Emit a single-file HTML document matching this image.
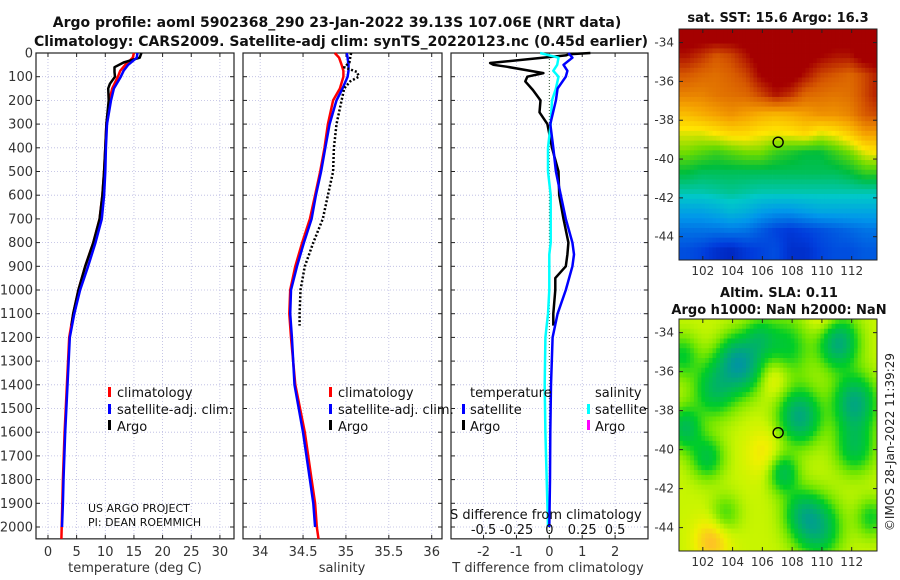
<!DOCTYPE html>
<html><head><meta charset="utf-8">
<style>
html,body{margin:0;padding:0;background:#fff;}
svg{display:block;font-family:"DejaVu Sans","Liberation Sans",sans-serif;}
</style></head>
<body>
<svg id="fig" width="900" height="580" viewBox="0 0 900 580" xmlns="http://www.w3.org/2000/svg">
<rect width="900" height="580" fill="#fff"/>
<text x="337" y="27" text-anchor="middle" font-size="14" font-weight="bold" fill="#111">Argo profile: aoml 5902368_290 23-Jan-2022 39.13S 107.06E (NRT data)</text>
<text x="341" y="46" text-anchor="middle" font-size="14" font-weight="bold" fill="#111">Climatology: CARS2009. Satellite-adj clim: synTS_20220123.nc (0.45d earlier)</text>
<g id="panels"></g>
<g id="maps"></g>
<text transform="translate(894,442) rotate(-90)" text-anchor="middle" font-size="12" fill="#222">©IMOS 28-Jan-2022 11:39:29</text>
</svg>
<script>
// ---------------- data ----------------
const depthLevels = [0,20,50,75,100,150,200,300,400,500,600,700,800,900,1000,1100,1200,1400,1600,1800,1900,2000,2050];
const climT  = [15.0,14.8,13.5,12.6,12.2,11.2,10.7,10.2,10.0,9.8,9.5,9.0,7.9,6.5,5.3,4.4,3.7,3.3,2.9,2.6,2.5,2.4,2.35];
const satT   = [15.6,15.5,14.0,13.2,12.7,11.5,11.0,10.3,10.1,10.0,9.8,9.4,8.3,7.0,5.6,4.6,3.8,3.4,3.0,2.7,2.6,2.45];
const argoDepthT = [0,20,40,60,80,100,130,150,200,300,400,500,600,700,800,900,1000,1100,1150];
const argoT  = [16.3,16.0,13.2,11.6,11.6,11.7,10.8,10.5,10.6,10.2,10.0,9.8,9.5,9.0,7.9,6.5,5.3,4.4,4.1];
const climS  = [34.87,34.92,34.95,34.97,34.97,34.93,34.85,34.79,34.75,34.70,34.64,34.58,34.49,34.41,34.35,34.34,34.36,34.41,34.52,34.60,34.64,34.66,34.68];
const satS   = [35.01,35.02,35.03,35.03,35.02,34.96,34.89,34.81,34.76,34.71,34.65,34.60,34.51,34.43,34.36,34.35,34.37,34.40,34.50,34.58,34.62,34.64];
const argoDepthS = [0,20,40,60,80,100,120,150,200,300,400,500,600,700,800,900,1000,1100,1150];
const argoS  = [35.06,35.05,35.04,34.98,35.13,35.15,35.05,34.98,34.95,34.89,34.86,34.85,34.79,34.73,34.62,34.52,34.47,34.46,34.46];
const diffDepthSat = [0,20,50,75,100,150,200,300,400,500,600,700,800,850,900,1000,1100,1200,1400,1600,1800,2000];
const satTdiff = [0.58,0.70,0.43,0.55,0.50,0.25,0.20,0.03,0.12,0.20,0.35,0.50,0.70,0.75,0.70,0.50,0.25,0.10,0.05,0.03,0.02,0.0];
const satSdiff = [-0.07,0.07,0.06,0.03,0.07,0.05,0.02,0.01,-0.01,-0.01,0.01,0.01,0.01,0.0,0.0,0.0,-0.01,-0.03,-0.035,-0.03,-0.02,-0.01];
const argoDiffDepth = [0,5,10,42,50,58,85,100,120,156,200,250,300,400,500,600,700,800,850,900,950,1000,1100,1150];
const argoTdiff = [1.25,0.6,0.5,-1.8,-1.7,-1.3,-0.18,-0.67,-0.73,-0.5,-0.27,-0.3,-0.06,0.08,0.28,0.3,0.43,0.58,0.55,0.5,0.18,0.18,0.12,0.12];
const tTicks = [0,5,10,15,20,25,30];
const sTicks = [34,34.5,35,35.5,36];
const dTicks = [-2,-1,0,1,2];
const dSTickLabels = ["-0.5","-0.25","0","0.25","0.5"];
const dSTickVals = [-0.5,-0.25,0,0.25,0.5];
const depthTicks = [0,100,200,300,400,500,600,700,800,900,1000,1100,1200,1300,1400,1500,1600,1700,1800,1900,2000];
// SST coarse grid (colour index 0..1), rows lat -33.7..-44.7, cols lon 100.9..113.9
const sstRowLats = [-33.7,-34.7,-35.7,-36.7,-37.7,-38.7,-39.7,-40.7,-41.7,-42.7,-43.7,-44.7];
const sstColLons = [100.9,101.9,102.9,103.9,104.9,105.9,106.9,107.9,108.9,109.9,110.9,111.9,112.9,113.9];
const sstGrid = [
[1,1,1,1,1,1,1,1,1,1,1,1,1,1],
[0.95,0.92,0.88,0.9,0.95,1,1,1,1,0.97,0.95,0.95,1,1],
[0.88,0.86,0.85,0.87,0.9,0.97,1,1,0.95,0.9,0.88,0.86,0.9,0.95],
[0.82,0.82,0.84,0.85,0.86,0.9,0.95,0.92,0.86,0.85,0.84,0.85,0.9,0.95],
[0.74,0.76,0.78,0.8,0.78,0.76,0.75,0.76,0.78,0.8,0.8,0.82,0.88,0.9],
[0.66,0.66,0.68,0.7,0.7,0.68,0.67,0.68,0.7,0.66,0.68,0.72,0.78,0.78],
[0.6,0.58,0.56,0.58,0.6,0.6,0.56,0.54,0.52,0.52,0.56,0.6,0.66,0.68],
[0.52,0.5,0.5,0.5,0.5,0.5,0.5,0.5,0.5,0.5,0.5,0.52,0.56,0.56],
[0.44,0.44,0.45,0.46,0.45,0.44,0.44,0.44,0.44,0.44,0.44,0.44,0.44,0.44],
[0.33,0.33,0.35,0.38,0.36,0.32,0.3,0.3,0.32,0.34,0.34,0.34,0.34,0.34],
[0.24,0.24,0.24,0.25,0.24,0.2,0.16,0.14,0.16,0.18,0.2,0.22,0.24,0.24],
[0.18,0.16,0.12,0.1,0.14,0.16,0.18,0.12,0.12,0.16,0.18,0.18,0.2,0.2]];
// SLA anomaly blobs: lon, lat, radius(deg), amplitude
const slaLon = [104.7,103.6,102.8,111.1,107.5,112.2,112.2,108.5,100.8,100.6,102.3,107.4,109.7,108.6,103.5,113.3,102.6,106.8,103.3,106.2,110.2,105.8];
const slaLat = [-35.7,-35.0,-36.9,-34.5,-34.8,-37.6,-39.9,-38.3,-38.9,-35.2,-40.4,-41.2,-44.0,-43.2,-43.3,-43.5,-44.7,-36.2,-34.7,-40.2,-33.3,-34.2];
const slaRad = [1.4,1.2,1.4,1.3,1.6,1.4,1.3,1.4,1.1,1.1,1.1,1.0,1.5,1.2,1.0,1.0,1.2,1.1,1.1,1.3,1.1,1.0];
const slaAmp = [-0.28,-0.14,-0.2,-0.28,-0.16,-0.28,-0.18,-0.28,-0.2,-0.14,-0.17,-0.2,-0.25,-0.15,-0.1,-0.13,0.12,0.1,0.07,0.07,0.08,-0.12];
const mapLonTicks = [102,104,106,108,110,112];
const mapLatTicks = [-34,-36,-38,-40,-42,-44];
const argoLon = 107.06, argoLat = -39.13;

// ---------------- helpers ----------------
const NS = "http://www.w3.org/2000/svg";
function mk(tag, attrs, parent){const e=document.createElementNS(NS,tag);for(const k in attrs)e.setAttribute(k,attrs[k]);parent.appendChild(e);return e;}
const Y0=53, YS=0.237, DMAX=2050;
const yD = d => Y0 + d*YS;
const panels = [
 {x0:36,x1:234,vmin:-2.09,vmax:32.46},
 {x0:243,x1:442,vmin:33.80,vmax:36.12},
 {x0:451,x1:648,vmin:-2.99,vmax:3.0}
];
function xS(p,v){return p.x0+(v-p.vmin)/(p.vmax-p.vmin)*(p.x1-p.x0);}
const G=document.getElementById('panels');

panels.forEach((p,i)=>{
  const g=mk('g',{},G);
  
  
  const yb=yD(DMAX);
  const ticks=[tTicks,sTicks,dTicks][i];
  depthTicks.forEach(d=>{const l=mk('line',{x1:p.x0,x2:p.x1,y1:yD(d),y2:yD(d),stroke:'#b8b8e0','stroke-width':0.8,'stroke-dasharray':'1,2'},g);
    
    
    mk('line',{x1:p.x0,x2:p.x0+4,y1:yD(d),y2:yD(d),stroke:'#222'},g);
    mk('line',{x1:p.x1,x2:p.x1-4,y1:yD(d),y2:yD(d),stroke:'#222'},g);
  });
  ticks.forEach(t=>{const x=xS(p,t);
    const l=mk('line',{x1:x,x2:x,y1:Y0,y2:yb,stroke:'#b8b8e0','stroke-width':0.8,'stroke-dasharray':'1,2'},g);
    
    
    mk('line',{x1:x,x2:x,y1:yb,y2:yb-4,stroke:'#222'},g);
    mk('line',{x1:x,x2:x,y1:Y0,y2:Y0+4,stroke:'#222'},g);
    const tx=mk('text',{x:x,y:yb+17,'text-anchor':'middle','font-size':13,fill:'#333'},g);
    tx.textContent=String(t);
    
    
  });
  if(i===0){depthTicks.forEach(d=>{const tx=mk('text',{x:33,y:yD(d)+4.5,'text-anchor':'end','font-size':13,fill:'#333'},g);
    tx.textContent=String(d);
    
    });}
  const fr=mk('rect',{x:p.x0,y:Y0,width:p.x1-p.x0,height:yb-Y0,fill:'none',stroke:'#222','stroke-width':1.2},g);
  
  
});

function prof(p,vals,deps,color,w,dash,name){
  const pts=vals.map((v,k)=>xS(p,v).toFixed(1)+','+yD(deps[k]).toFixed(1)).join(' ');
  const a={points:pts,fill:'none',stroke:color,'stroke-width':w,'stroke-linejoin':'round'};
  if(dash)a['stroke-dasharray']=dash;
  const e=mk('polyline',a,G);
  
  
}
const [P1,P2,P3]=panels;
const z=mk('line',{x1:xS(P3,0),x2:xS(P3,0),y1:Y0,y2:yD(DMAX),stroke:'#335533','stroke-width':1,'stroke-dasharray':'1,2'},G);



prof(P1,climT,depthLevels,'#f00',2.5,null,'climatology-temperature-line');
prof(P1,argoT,argoDepthT,'#000',2.5,null,'argo-temperature-line');
prof(P1,satT,depthLevels.slice(0,satT.length),'#00f',2.5,null,'satellite-temperature-line');
prof(P2,climS,depthLevels,'#f00',2.5,null,'climatology-salinity-line');
prof(P2,satS,depthLevels.slice(0,satS.length),'#00f',2.5,null,'satellite-salinity-line');
prof(P2,argoS,argoDepthS,'#000',2.5,'2,2','argo-salinity-line');
prof(P3,argoTdiff,argoDiffDepth,'#000',2.5,null,'argo-temperature-difference-line');
prof(P3,satSdiff.map(v=>v*4),diffDepthSat,'#0ff',2.5,null,'satellite-salinity-difference-line');
prof(P3,satTdiff,diffDepthSat,'#00f',2.5,null,'satellite-temperature-difference-line');

function txt(x,y,s,opts,name){const a={x:x,y:y,'font-size':13,fill:'#111'};Object.assign(a,opts||{});const t=mk('text',a,G);t.textContent=s;
  
  return t;}
function mark(x,y,c,name){const r=mk('rect',{x:x,y:y-10,width:3,height:10,fill:c},G);
  
  }
[[108,'temperature'],[329,'salinity']].forEach(([lx,nm])=>{
  mark(lx,397,'#f00',nm+'-legend-climatology-marker');txt(lx+9,397,'climatology',{},nm+'-legend-climatology');
  mark(lx,414,'#00f',nm+'-legend-satellite-marker');txt(lx+9,414,'satellite-adj. clim.',{},nm+'-legend-satellite');
  mark(lx,430,'#000',nm+'-legend-argo-marker');txt(lx+9,431,'Argo',{},nm+'-legend-argo');
});
txt(470,397,'temperature',{},'diff-legend-temperature-header');
mark(462,414,'#00f','diff-legend-temp-satellite-marker');txt(470,414,'satellite',{},'diff-legend-temp-satellite');
mark(462,430,'#000','diff-legend-temp-argo-marker');txt(470,431,'Argo',{},'diff-legend-temp-argo');
txt(595,397,'salinity',{},'diff-legend-salinity-header');
mark(587,414,'#0ff','diff-legend-sal-satellite-marker');txt(595,414,'satellite',{},'diff-legend-sal-satellite');
mark(587,430,'#f0f','diff-legend-sal-argo-marker');txt(595,431,'Argo',{},'diff-legend-sal-argo');
txt(88,512,'US ARGO PROJECT',{'font-size':11},'project-credit');
txt(88,526,'PI: DEAN ROEMMICH',{'font-size':11},'pi-credit');
txt(450,519,'S difference from climatology',{'font-size':13},'s-difference-axis-title');
dSTickVals.forEach((v,k)=>txt(xS(P3,v*4),534,dSTickLabels[k],{'text-anchor':'middle'},'s-difference-tick-label'));
txt(135,572,'temperature (deg C)',{'text-anchor':'middle',fill:'#333'},'temperature-axis-title');
txt(342,572,'salinity',{'text-anchor':'middle',fill:'#333'},'salinity-axis-title');
txt(548,572,'T difference from climatology',{'text-anchor':'middle',fill:'#333'},'t-difference-axis-title');

// ---------------- maps ----------------
const M=document.getElementById('maps');
const LON0=100.4,LON1=113.7,LAT0=-33.3,LAT1=-45.2;
const maps=[{x0:679,x1:877,y0:29,y1:260,name:'sst-map',title:['sat. SST: 15.6 Argo: 16.3'],ty:[22]},
            {x0:679,x1:877,y0:319,y1:551,name:'sla-map',title:['Altim. SLA: 0.11','Argo h1000: NaN h2000: NaN'],ty:[297,314]}];
const sstStops=[[0,[0,0,140]],[0.15,[0,60,220]],[0.3,[0,150,235]],[0.42,[0,200,200]],[0.52,[0,190,60]],[0.6,[110,220,0]],[0.68,[255,230,0]],[0.78,[245,160,0]],[0.88,[215,90,0]],[0.97,[165,0,0]],[1,[165,0,0]]];
const slaStops=[[-0.35,[0,150,160]],[-0.22,[0,185,90]],[-0.14,[0,205,40]],[-0.07,[110,230,0]],[0,[200,245,0]],[0.05,[240,240,0]],[0.12,[255,190,40]]];
function cmap(stops,v){if(v<=stops[0][0])return stops[0][1];for(let i=1;i<stops.length;i++){if(v<=stops[i][0]){const [a,ca]=stops[i-1],[b,cb]=stops[i];const t=(v-a)/(b-a);return ca.map((c,k)=>Math.round(c+(cb[k]-c)*t));}}return stops[stops.length-1][1];}
function interp(arr,v){const n=arr.length;for(let i=0;i<n-1;i++){const a=arr[i],b=arr[i+1];if((v-a)*(v-b)<=0)return i+(v-a)/(b-a);}return (Math.abs(v-arr[0])<Math.abs(v-arr[n-1]))?0:n-1;}
function sstAt(lon,lat){let fi=interp(sstRowLats,lat),fj=interp(sstColLons,lon);fi=Math.max(0,Math.min(sstRowLats.length-1.001,fi));fj=Math.max(0,Math.min(sstColLons.length-1.001,fj));
  const i=Math.floor(fi),j=Math.floor(fj),a=fi-i,b=fj-j;
  return sstGrid[i][j]*(1-a)*(1-b)+sstGrid[i+1][j]*a*(1-b)+sstGrid[i][j+1]*(1-a)*b+sstGrid[i+1][j+1]*a*b;}
function slaAt(lon,lat){let s=0;for(let k=0;k<slaLon.length;k++){const dx=(lon-slaLon[k]),dy=(lat-slaLat[k]);s+=slaAmp[k]*Math.exp(-(dx*dx+dy*dy)/(slaRad[k]*slaRad[k]));}return s;}
maps.forEach((m,mi)=>{
  const g=mk('g',{},M);
  
  
  const px=lon=>m.x0+(lon-LON0)/(LON1-LON0)*(m.x1-m.x0);
  const py=lat=>m.y0+(lat-LAT0)/(LAT1-LAT0)*(m.y1-m.y0);
  const step=0.25;
  for(let lat=LAT0;lat>LAT1;lat-=step){for(let lon=LON0;lon<LON1;lon+=step){
    const v=mi===0?sstAt(lon+step/2,lat-step/2):slaAt(lon+step/2,lat-step/2);
    const c=cmap(mi===0?sstStops:slaStops,v);
    const x=px(lon),y=py(lat),w=Math.min(px(lon+step),m.x1)-x,h=Math.min(py(lat-step),m.y1)-y;
    mk('rect',{x:x.toFixed(2),y:y.toFixed(2),width:(w+0.4).toFixed(2),height:(h+0.4).toFixed(2),fill:'rgb('+c.join(',')+')'},g);
  }}
  const fr=mk('rect',{x:m.x0,y:m.y0,width:m.x1-m.x0,height:m.y1-m.y0,fill:'none',stroke:'#222','stroke-width':1},g);
  
  
  mapLonTicks.forEach(t=>{const x=px(t);mk('line',{x1:x,x2:x,y1:m.y1,y2:m.y1-4,stroke:'#222'},g);mk('line',{x1:x,x2:x,y1:m.y0,y2:m.y0+4,stroke:'#222'},g);
    const tx=mk('text',{x:x,y:m.y1+15,'text-anchor':'middle','font-size':12,fill:'#333'},g);tx.textContent=String(t);
    
    });
  mapLatTicks.forEach(t=>{const y=py(t);mk('line',{x1:m.x0,x2:m.x0+4,y1:y,y2:y,stroke:'#222'},g);mk('line',{x1:m.x1,x2:m.x1-4,y1:y,y2:y,stroke:'#222'},g);
    const tx=mk('text',{x:m.x0-5,y:y+4,'text-anchor':'end','font-size':12,fill:'#333'},g);tx.textContent=String(t);
    
    });
  const c=mk('circle',{cx:px(argoLon),cy:py(argoLat),r:5,fill:'none',stroke:'#000','stroke-width':1.4},g);
  
  
  m.title.forEach((s,k)=>{const t=mk('text',{x:(mi===0?778:m.x0+100),y:m.ty[k],'text-anchor':'middle','font-size':13,'font-weight':'bold',fill:'#111'},g);t.textContent=s;
    
    });
});
</script>
</body></html>
